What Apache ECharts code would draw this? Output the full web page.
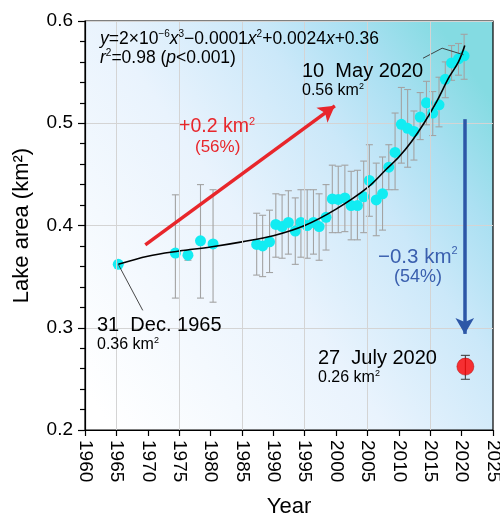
<!DOCTYPE html>
<html><head><meta charset="utf-8">
<script src="https://cdn.jsdelivr.net/npm/echarts@6/dist/echarts.min.js"></script>
<style>html,body{margin:0;padding:0;background:#fff}#c{width:500px;height:518px}</style>
</head><body><div id="c"></div>
<script>
const years = [1965.3,1974.4,1976.4,1978.4,1980.4,1987.35,1988.3,1989.4,1990.4,1991.4,1992.4,1993.5,1994.4,1995.4,1996.4,1997.3,1998.4,1999.4,2000.35,2001.4,2002.4,2003.4,2004.4,2005.3,2006.4,2007.4,2008.4,2009.4,2010.4,2011.4,2012.4,2013.4,2014.4,2015.4,2016.4,2017.4,2018.4,2019.5,2020.4];
const areas = [0.362,0.373,0.371,0.385,0.382,0.3815,0.380,0.384,0.401,0.399,0.403,0.3945,0.403,0.400,0.403,0.399,0.408,0.426,0.4255,0.427,0.4195,0.4195,0.428,0.444,0.425,0.431,0.457,0.4715,0.499,0.495,0.492,0.506,0.520,0.510,0.518,0.543,0.559,0.563,0.566];
const errLow = [null,0.329,0.366,0.329,0.325,0.3515,0.350,0.354,0.369,0.368,0.372,0.362,0.369,0.368,0.372,0.366,0.376,0.393,0.393,0.394,0.386,0.386,0.393,0.409,0.390,0.3955,0.435,0.435,0.461,0.457,0.464,0.484,0.4985,0.488,0.4965,0.525,0.542,0.547,0.543];
const errHigh = [null,0.430,0.376,0.440,0.435,0.412,0.410,0.415,0.431,0.430,0.434,0.427,0.435,0.435,0.435,0.431,0.440,0.459,0.458,0.459,0.453,0.454,0.463,0.479,0.461,0.467,0.479,0.510,0.535,0.533,0.512,0.530,0.541,0.531,0.545,0.560,0.576,0.578,0.587];

const curveYears = [1965.3,1970,1975,1980,1985,1990,1995,2000,2005,2008,2010,2012,2014,2016,2018,2019.5,2020.5];
const curveAreas = [0.362,0.370,0.375,0.379,0.384,0.390,0.400,0.416,0.437,0.455,0.467,0.482,0.500,0.521,0.545,0.560,0.576];

const redYears = [2020.6];
const redAreas = [0.262];
const redLow = [0.2496];
const redHigh = [0.273];

const gridYears = [1965,1975,1985,1995,2005,2015];
const redArrow = [[1969.6,0.381],[1999.8,0.517]];
const blueArrow = [[2020.5,0.504],[2020.5,0.294]];
const leader1965 = [[1965.3,0.362],[1969.2,0.317]];
const leader2020 = [[2013.85,0.5636],[2016.9,0.5734],[2020.3,0.567]];

const FONT = "'Liberation Sans', Arial, sans-serif";
const chart = echarts.init(document.getElementById('c'), null, {renderer:'canvas'});

function errItem(color, cap) {
  return function(params, api) {
    const x = api.value(0), lo = api.value(1), hi = api.value(2);
    const a = api.coord([x, lo]), b = api.coord([x, hi]);
    const st = {stroke: color, lineWidth: 1.1};
    return {type:'group', children:[
      {type:'line', shape:{x1:a[0],y1:a[1],x2:b[0],y2:b[1]}, style:st},
      {type:'line', shape:{x1:a[0]-cap,y1:a[1],x2:a[0]+cap,y2:a[1]}, style:st},
      {type:'line', shape:{x1:b[0]-cap,y1:b[1],x2:b[0]+cap,y2:b[1]}, style:st}
    ]};
  };
}
const errData = years.map((y,i)=>[y, errLow[i], errHigh[i]]).filter(d=>d[1]!==null);
const redErrData = redYears.map((y,i)=>[y, redLow[i], redHigh[i]]);

function txt(x, y, text, size, color) {
  return {type:'text', x:x, y:y, z:100, style:{
    text:text, fontFamily:FONT, fontSize:size, fill:color, verticalAlign:'middle',
    rich: {
      n:{fontSize:size, fontFamily:FONT, fill:color, lineHeight:size+2},
      i:{fontSize:size, fontFamily:FONT, fill:color, fontStyle:'italic', lineHeight:size+2},
      s:{fontSize:Math.round(size*0.55), fontFamily:FONT, fill:color, verticalAlign:'top', lineHeight:size+2}
    }
  }};
}

const option = {
  animation:false,
  grid:{left:85, right:7, top:21, bottom:88, show:true, borderColor:'#000', borderWidth:1.2,
    outerBoundsMode:'none', containLabel:false,
    backgroundColor:{type:'linear', x:0, y:0.9, x2:1, y2:0.2, colorStops:[
      {offset:0, color:'#ffffff'},{offset:0.45, color:'#e9f3fd'},{offset:0.7, color:'#cbe8f9'},{offset:0.85, color:'#abe0f2'},{offset:1, color:'#84dbe2'}]}},
  xAxis:{type:'value', min:1960, max:2025, interval:5,
    axisLine:{lineStyle:{color:'#000', width:1.2}},
    axisTick:{show:true, inside:false, length:6, lineStyle:{color:'#000', width:1.2}},
    axisLabel:{rotate:-90, margin:10, color:'#000', fontSize:19, fontFamily:FONT, formatter:v=>String(v)},
    splitLine:{show:false},
    name:'Year', nameLocation:'middle', nameGap:66, nameTextStyle:{fontSize:22, fontFamily:FONT, color:'#000'}},
  yAxis:{type:'value', min:0.2, max:0.6, interval:0.1,
    axisLine:{show:true, lineStyle:{color:'#000', width:1.2}},
    axisTick:{show:true, inside:false, length:7, lineStyle:{color:'#000', width:1.2}},
    minorTick:{show:true, splitNumber:5, length:5, lineStyle:{color:'#000', width:1.2}},
    axisLabel:{margin:12, color:'#000', fontSize:19, fontFamily:FONT, formatter:v=>v.toFixed(1)},
    splitLine:{show:true, lineStyle:{color:'#d4d4d4', width:1}},
    name:'Lake area (km²)', nameLocation:'middle', nameGap:52, nameRotate:90,
    nameTextStyle:{fontSize:22, fontFamily:FONT, color:'#000'}},
  series:[
    {type:'line', data:[], z:1, silent:true,
      markLine:{silent:true, symbol:['none','none'], label:{show:false},
        lineStyle:{color:'#d4d4d4', width:1, type:'solid'},
        data: gridYears.map(y=>({xAxis:y}))}},
    {type:'custom', z:2, silent:true, renderItem: errItem('#a3a3a3', 3.5), data: errData},
    {type:'scatter', z:3, symbol:'circle', symbolSize:11, itemStyle:{color:'#12ecf2', opacity:1},
      data: years.map((y,i)=>[y, areas[i]])},
    {type:'line', z:4, smooth:0.35, showSymbol:false, symbol:'none', lineStyle:{color:'#000', width:1.6},
      data: curveYears.map((y,i)=>[y, curveAreas[i]])},
    {type:'line', z:4, showSymbol:false, symbol:'none', lineStyle:{color:'#333', width:0.9},
      data: leader1965},
    {type:'line', z:4, showSymbol:false, symbol:'none', lineStyle:{color:'#333', width:0.9},
      data: leader2020},
    {type:'custom', z:5, silent:true, renderItem: errItem('#444', 4.5), data: redErrData},
    {type:'scatter', z:6, symbol:'circle', symbolSize:17, itemStyle:{color:'#ff0000', borderColor:'#b00000', borderWidth:0.6},
      data: redYears.map((y,i)=>[y, redAreas[i]])},
    {type:'line', data:[], z:7, silent:true,
      markLine:{silent:true, symbol:['none','arrow'], symbolSize:[14,16], label:{show:false},
        data:[
          [{coord:redArrow[0], lineStyle:{color:'#e8262b', width:3.5, type:'solid'}},
           {coord:redArrow[1], lineStyle:{color:'#e8262b', width:3.5, type:'solid'}, itemStyle:{color:'#e8262b'}}],
          [{coord:blueArrow[0], lineStyle:{color:'#2d57a7', width:3.5, type:'solid'}},
           {coord:blueArrow[1], lineStyle:{color:'#2d57a7', width:3.5, type:'solid'}, itemStyle:{color:'#2d57a7'}}]
        ]}}
  ],
  graphic:[
    txt(100, 39, '{i|y}{n|=2×10}{s|−6}{i|x}{s|3}{n|−0.0001}{i|x}{s|2}{n|+0.0024}{i|x}{n|+0.36}', 17.5, '#000'),
    txt(100, 58, '{i|r}{s|2}{n|=0.98 (}{i|p}{n|<0.001)}', 17.5, '#000'),
    txt(302, 71, '{n|10  May 2020}', 20, '#000'),
    txt(302, 91, '{n|0.56 km}{s|2}', 16, '#000'),
    txt(179, 127, '{n|+0.2 km}{s|2}', 19.5, '#e8262b'),
    txt(195, 147, '{n|(56%)}', 17, '#e8262b'),
    txt(378, 257, '{n|−0.3 km}{s|2}', 20.5, '#3a5fae'),
    txt(394, 277, '{n|(54%)}', 18, '#3a5fae'),
    txt(97, 325, '{n|31  Dec. 1965}', 20, '#000'),
    txt(97, 345, '{n|0.36 km}{s|2}', 16, '#000'),
    txt(318, 358, '{n|27  July 2020}', 20, '#000'),
    txt(318, 378, '{n|0.26 km}{s|2}', 16, '#000')
  ]
};
chart.setOption(option);
</script></body></html>
